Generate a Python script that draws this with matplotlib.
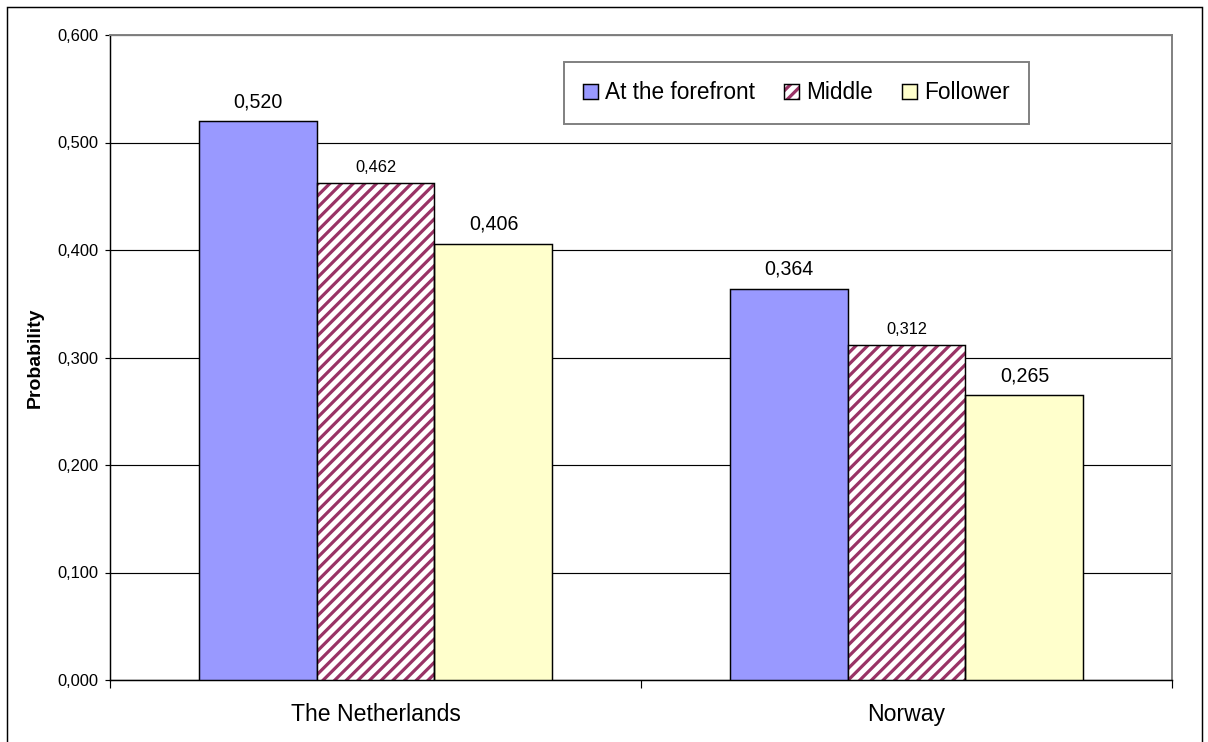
import matplotlib
matplotlib.use("Agg")
import matplotlib.pyplot as plt
from matplotlib.patches import Rectangle
from matplotlib.legend_handler import HandlerTuple
import numpy as np

# Data
countries = ["The Netherlands", "Norway"]
series_names = ["At the forefront", "Middle", "Follower"]
forefront = [0.520, 0.364]
middle = [0.462, 0.312]
follower = [0.406, 0.265]
y_ticks = [0.0, 0.1, 0.2, 0.3, 0.4, 0.5, 0.6]


def fmt(v):
    return f"{v:.3f}".replace(".", ",")


DPI = 70
W, H = 1208, 742
plt.rcParams["font.family"] = ["Liberation Sans", "DejaVu Sans"]
plt.rcParams["hatch.linewidth"] = 3.3

fig = plt.figure(figsize=(W / DPI, H / DPI), dpi=DPI)
fig.patch.set_facecolor("white")
ax = fig.add_axes([110 / W, 62 / H, 1062 / W, 645 / H])

x = np.arange(len(countries))
w = 0.2222
lw = 1.5

b1 = ax.bar(x - w, forefront, w, color="#9999FF", edgecolor="black", linewidth=lw, zorder=3)
b2h = ax.bar(x, middle, w, facecolor="white", edgecolor="#993366", hatch="//", linewidth=0, zorder=3)
b2 = ax.bar(x, middle, w, facecolor="none", edgecolor="black", linewidth=lw, zorder=4)
b3 = ax.bar(x + w, follower, w, color="#FFFFCC", edgecolor="black", linewidth=lw, zorder=3)

# Value labels
for xi, v in zip(x - w, forefront):
    ax.annotate(fmt(v), (xi, v), xytext=(0, 10), textcoords="offset pixels",
                ha="center", va="bottom", fontsize=20.2)
for xi, v in zip(x, middle):
    ax.annotate(fmt(v), (xi, v), xytext=(0, 8), textcoords="offset pixels",
                ha="center", va="bottom", fontsize=16.9)
for xi, v in zip(x + w, follower):
    ax.annotate(fmt(v), (xi, v), xytext=(0, 10), textcoords="offset pixels",
                ha="center", va="bottom", fontsize=20.2)

# Axes
ax.set_xlim(-0.5, 1.5)
ax.set_ylim(0, 0.6)
ax.set_yticks(y_ticks)
ax.set_yticklabels([fmt(v) for v in y_ticks], fontsize=17)
ax.tick_params(axis="y", direction="out", length=5, width=1.2, pad=7)
ax.set_xticks([-0.5, 0.5, 1.5])
ax.set_xticklabels(["", "", ""])
ax.tick_params(axis="x", which="major", direction="out", length=8, width=1.2)
ax.set_xticks(x, minor=True)
ax.set_xticklabels(countries, minor=True, fontsize=23.7)
ax.tick_params(axis="x", which="minor", length=0, pad=24)

ax.yaxis.grid(True, color="black", linewidth=1.2)
ax.set_axisbelow(True)
for side in ("left", "bottom"):
    ax.spines[side].set_color("black")
    ax.spines[side].set_linewidth(1.5)
for side in ("top", "right"):
    ax.spines[side].set_color("#808080")
    ax.spines[side].set_linewidth(2)

ax.set_ylabel("Probability", fontsize=20, fontweight="bold")
ax.yaxis.set_label_coords((44 - 110) / 1062, 0.5)

# Legend
leg = ax.legend(
    [b1[0], (b2h[0], b2[0]), b3[0]], series_names,
    handler_map={tuple: HandlerTuple(ndivide=1, pad=0)},
    loc="upper left", bbox_to_anchor=(564 / W, 1 - 62 / H),
    bbox_transform=fig.transFigure, borderaxespad=0,
    ncol=3, fontsize=23.3, frameon=True, fancybox=False, framealpha=1,
    edgecolor="#808080", handlelength=0.66, handleheight=0.66,
    handletextpad=0.3, columnspacing=1.3, borderpad=0.85,
)
leg.get_frame().set_linewidth(2)

# Outer chart border
fig.add_artist(Rectangle((7 / W, -0.02), (1202 - 7) / W, 1 - 7 / H + 0.02,
                         transform=fig.transFigure, fill=False,
                         edgecolor="black", linewidth=1.5))

fig.savefig("out.png", dpi=DPI)
